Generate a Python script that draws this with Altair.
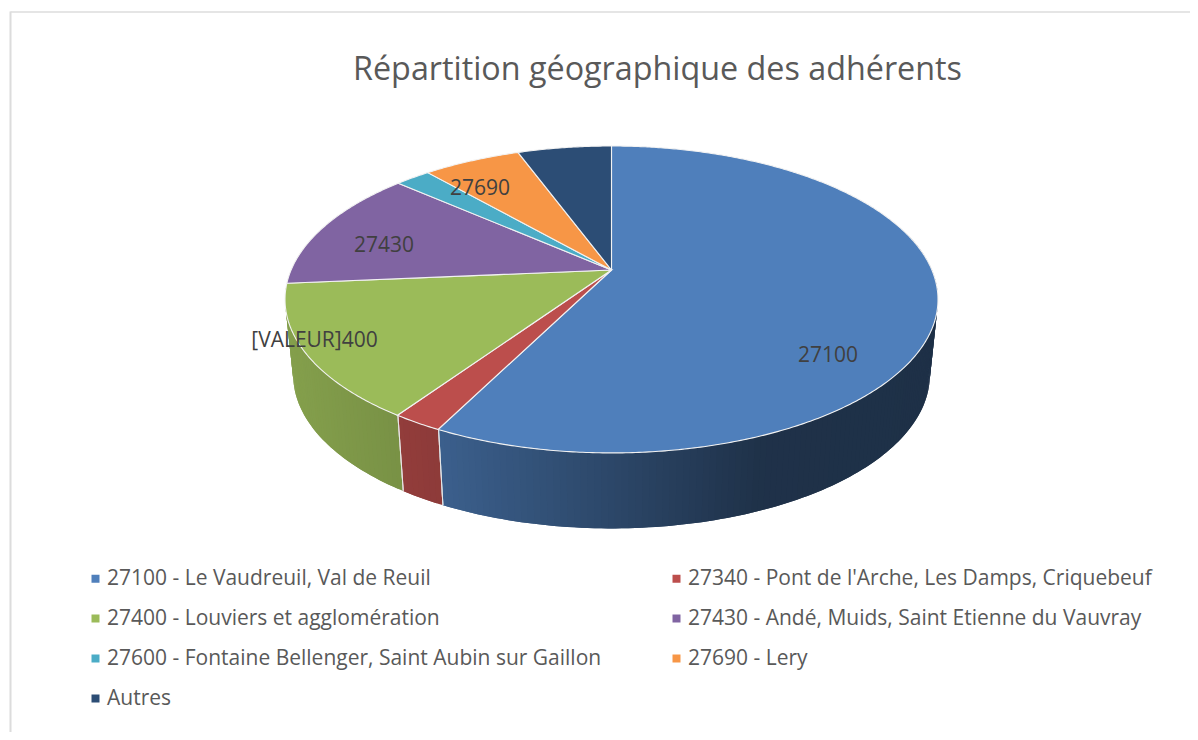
import math
import altair as alt

# Data (share of adherents, percent)
names = ["27100 - Le Vaudreuil, Val de Reuil", "27340 - Pont de l'Arche, Les Damps, Criquebeuf",
         "27400 - Louviers et agglomération", "27430 - Andé, Muids, Saint Etienne du Vauvray",
         "27600 - Fontaine Bellenger, Saint Aubin sur Gaillon", "27690 - Lery", "Autres"]
shares = [57.4, 2.1, 14.1, 12.9, 2.1, 5.8, 5.6]
colors = ["#4f7fbb", "#bc4e4c", "#9bbb59", "#8064a2", "#4bacc6", "#f79646", "#2c4d75"]
side_shade_x = [290, 440, 620, 760, 940]
side_shade_f = [0.85, 0.75, 0.55, 0.39, 0.38]
title_text = "Répartition géographique des adhérents"

# Perspective view of the disc, in chart pixels (page margin removed)
CX, CY, A, C, B = 603.5, 262.0, 320.4, 147.8, 0.192
DEPTH, SHRINK = 75.5, 0.975


def top(t, r=1.0):
    u, w = r * math.sin(t), -r * math.cos(t)
    d = 1 - B * w
    return [CX + A * u / d, CY + C * w / d]


def bottom(t):
    x, y = top(t)
    return [CX + (x - CX) * SHRINK, y + DEPTH]


def shade(hex_color, x):
    xs, fs = side_shade_x, side_shade_f
    x = x + 8
    f = fs[0] if x <= xs[0] else fs[-1]
    for i in range(len(xs) - 1):
        if xs[i] <= x <= xs[i + 1]:
            f = fs[i] + (fs[i + 1] - fs[i]) * (x - xs[i]) / (xs[i + 1] - xs[i])
    rgb = [int(hex_color[i:i + 2], 16) for i in (1, 3, 5)]
    return "#%02x%02x%02x" % tuple(round(c * f) for c in rgb)


def feature(ring, **props):
    return {"type": "Feature", "properties": props,
            "geometry": {"type": "Polygon", "coordinates": [ring + [ring[0]]]}}


edges = [0.0]
for s in shares:
    edges.append(edges[-1] + s / sum(shares) * 2 * math.pi)

wedges, strips, seams = [], [], []
for i, name in enumerate(names):
    a0, a1 = edges[i], edges[i + 1]
    n = max(4, int((a1 - a0) * 120))
    arc = [top(a0 + (a1 - a0) * k / n) for k in range(n + 1)]
    wedges.append(feature([top(0, 0)] + arc, name=name))
    # visible rim only: front of the disc, out to the silhouette
    lo, hi = max(a0, math.radians(75)), min(a1, math.radians(285))
    if hi > lo and a0 < math.radians(262):
        m = max(2, int((hi - lo) / math.radians(1.0)))
        # each strip overlaps the next one, so no gap shows between them
        for k in range(m):
            t0 = lo + (hi - lo) * k / m
            t1 = min(hi, lo + (hi - lo) * (k + 2) / m)
            tc = lo + (hi - lo) * (k + 0.5) / m
            ring = [top(t0), top((t0 + t1) / 2), top(t1), bottom(t1), bottom((t0 + t1) / 2), bottom(t0)]
            strips.append(feature(ring, fill=shade(colors[i], top(tc)[0])))
        for t in (a0, a1):
            if math.radians(95) < t < math.radians(262):
                a, b = top(t), bottom(t)
                seams.append(feature([a, [a[0] + 1.0, a[1]], [b[0] + 1.0, b[1]], [b[0], b[1]]], fill="#e6e6e6"))

proj = alt.Projection(type="identity", scale=1, translate=[0, 0])

side_layer = alt.Chart(alt.Data(values=strips)).mark_geoshape(stroke=None).encode(
    fill=alt.Fill("properties.fill:N", scale=None, legend=None),
).project(**proj.to_dict())

seam_layer = alt.Chart(alt.Data(values=seams)).mark_geoshape(stroke=None).encode(
    fill=alt.Fill("properties.fill:N", scale=None, legend=None),
).project(**proj.to_dict())

legend = alt.Legend(
    title=None, orient="none", legendX=77, legendY=560, columns=2, direction="horizontal",
    symbolType="square", symbolSize=64, symbolStrokeWidth=0, labelFont="Open Sans", labelFontSize=21,
    labelColor="#595959", labelLimit=700, labelOffset=1, rowPadding=18, columnPadding=64,
    values=names,
)
top_layer = alt.Chart(alt.Data(values=wedges)).mark_geoshape(stroke="#f2f2f2", strokeWidth=1.1).encode(
    color=alt.Color("properties.name:N", scale=alt.Scale(domain=names, range=colors), sort=names, legend=legend),
).project(**proj.to_dict())


def label(text, x, y):
    return alt.Chart(alt.Data(values=[{"t": text}])).mark_text(
        font="Open Sans", fontSize=21, color="#404040", align="center", baseline="middle"
    ).encode(text="t:N", x=alt.value(x), y=alt.value(y))


labels = [label("27100", 820, 348), label("27430", 376, 238), label("27690", 472, 181),
          label("[VALEUR]400", 306.5, 333)]

frame_v = alt.Chart(alt.Data(values=[{"a": 1}])).mark_rule(color="#dcdcdc", strokeWidth=2).encode(
    x=alt.value(2.5), y=alt.value(3.5), y2=alt.value(724))
frame_h = alt.Chart(alt.Data(values=[{"a": 1}])).mark_rule(color="#dcdcdc", strokeWidth=1.5).encode(
    x=alt.value(2.5), x2=alt.value(1182), y=alt.value(4))
title = alt.Chart(alt.Data(values=[{"t": title_text}])).mark_text(
    font="Open Sans", fontSize=32.3, color="#595959", align="center", baseline="middle"
).encode(text="t:N", x=alt.value(649.5), y=alt.value(62))

chart = alt.layer(frame_v, frame_h, side_layer, seam_layer, top_layer, *labels, title).resolve_scale(
    color="independent", fill="independent", stroke="independent"
).properties(width=1182, height=724, padding=0, autosize="none", background="white").configure_view(stroke=None)

chart.save("out.html", embed_options={"renderer": "svg", "actions": False})
